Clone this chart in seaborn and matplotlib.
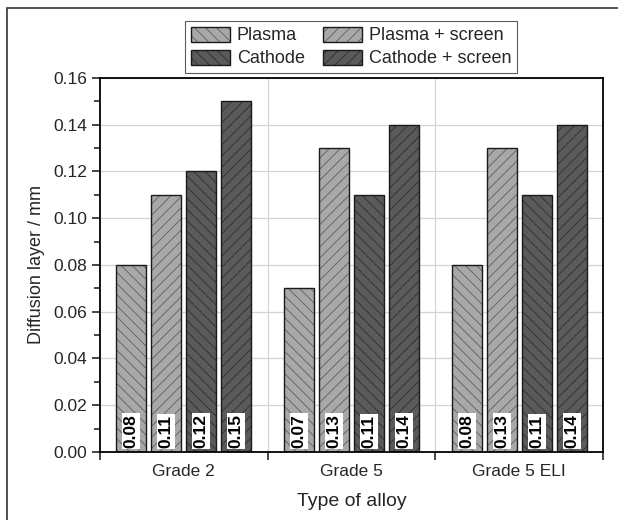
import matplotlib
matplotlib.use("Agg")
import matplotlib.pyplot as plt
import seaborn as sns
import pandas as pd
from matplotlib.patches import Rectangle
from matplotlib.colors import to_rgba
from matplotlib.ticker import MultipleLocator, FixedLocator

categories = ["Grade 2", "Grade 5", "Grade 5 ELI"]
series = ["Plasma", "Plasma + screen", "Cathode", "Cathode + screen"]
plasma = [0.08, 0.07, 0.08]
plasma_screen = [0.11, 0.13, 0.13]
cathode = [0.12, 0.11, 0.11]
cathode_screen = [0.15, 0.14, 0.14]

values = [plasma, plasma_screen, cathode, cathode_screen]
rows = []
for s, vals in zip(series, values):
    for c, v in zip(categories, vals):
        rows.append({"alloy": c, "series": s, "value": v})
df = pd.DataFrame(rows)

sns.set_style("white")
plt.rcParams["font.family"] = ["Liberation Sans", "DejaVu Sans"]
plt.rcParams["hatch.linewidth"] = 0.6

colors = ["#a8a8a8", "#a8a8a8", "#5a5a5a", "#5a5a5a"]
hatch_colors = ["#5e5e5e", "#5e5e5e", "#2e2e2e", "#2e2e2e"]
hatches = ["\\\\\\", "///", "\\\\\\", "///"]

fig = plt.figure(figsize=(6.18, 5.2), dpi=100)
ax = fig.add_axes([0.1618, 0.1308, 0.8139, 0.7192])

sns.barplot(data=df, x="alloy", y="value", hue="series", order=categories,
            hue_order=series, palette=colors, width=0.835, gap=0.14,
            edgecolor="#1a1a1a", linewidth=1.0, ax=ax, legend=False,
            saturation=1, errorbar=None)

for cont, h, hc in zip(ax.containers, hatches, hatch_colors):
    for p in cont.patches:
        p.set_hatch(h)
        p._hatch_color = to_rgba(hc)
        p.set_zorder(2)
        v = p.get_height()
        x = p.get_x() + p.get_width() / 2
        ax.text(x, 0.0017, f"{v:.2f}", rotation=90, ha="center", va="bottom",
                fontsize=12.5, fontweight="bold", color="black", zorder=4,
                bbox=dict(facecolor="white", edgecolor="none", pad=1.0))

ax.set_xlim(-0.5, 2.5)
ax.set_ylim(0, 0.16)
ax.yaxis.set_major_locator(MultipleLocator(0.02))
ax.yaxis.set_minor_locator(MultipleLocator(0.01))
ax.set_yticks(ax.get_yticks())
ax.set_yticklabels([f"{t:.2f}" for t in ax.get_yticks()])
ax.set_ylim(0, 0.16)
ax.xaxis.set_minor_locator(FixedLocator([-0.5, 0.5, 1.5, 2.5]))
ax.tick_params(axis="x", which="major", length=0, labelsize=12.5, pad=9)
ax.tick_params(axis="x", which="minor", length=6, width=1.2, direction="out", bottom=True)
ax.tick_params(axis="y", which="major", length=6, width=1.2, direction="out", left=True, labelsize=12.5)
ax.tick_params(axis="y", which="minor", length=4, width=1.2, direction="out", left=True)

ax.grid(axis="y", which="major", color="#d4d4d4", linewidth=0.9, zorder=0)
for xb in [0.5, 1.5]:
    ax.axvline(xb, color="#d4d4d4", linewidth=0.9, zorder=0)
ax.set_axisbelow(True)

for sp in ax.spines.values():
    sp.set_visible(True)
    sp.set_color("black")
    sp.set_linewidth(1.3)

ax.set_xlabel("Type of alloy", fontsize=14, labelpad=10)
ax.set_ylabel("Diffusion layer / mm", fontsize=13, labelpad=6)

handles = [ax.containers[0], ax.containers[2], ax.containers[1], ax.containers[3]]
labels = [series[0], series[2], series[1], series[3]]
leg = fig.legend(handles, labels, ncol=2, loc="center",
                 bbox_to_anchor=(351 / 618, 1 - 47 / 520), frameon=True,
                 fontsize=13, handlelength=2.2, handleheight=0.9,
                 columnspacing=1.0, handletextpad=0.35, borderpad=0.3,
                 borderaxespad=0.0, labelspacing=0.3, fancybox=False,
                 edgecolor="#333333")
leg.get_frame().set_linewidth(0.8)

fig.patches.append(Rectangle((7 / 618, -0.1), 1.2, 1 - 8 / 520 + 0.1,
                             transform=fig.transFigure, fill=False,
                             edgecolor="#333333", linewidth=1.2))

fig.savefig("out.png", dpi=100)
